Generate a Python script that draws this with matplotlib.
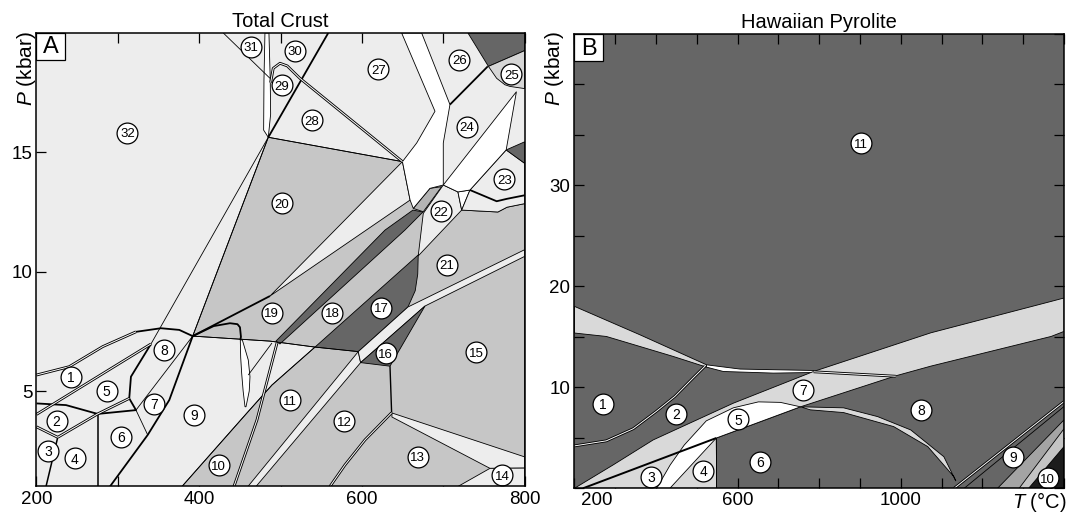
import matplotlib
matplotlib.use("Agg")
import matplotlib.pyplot as plt
from matplotlib.patches import Polygon, Rectangle
from matplotlib.transforms import ScaledTranslation

plt.rcParams["font.family"] = ["Liberation Sans", "DejaVu Sans"]
plt.rcParams["mathtext.fontset"] = "custom"
plt.rcParams["mathtext.rm"] = "Liberation Sans"
plt.rcParams["mathtext.it"] = "Liberation Sans:italic"

LIGHT = "#ededed"
MID = "#c6c6c6"
DARK = "#666666"
WHITE = "#ffffff"
BAND = "#d9d9d9"
BLOCK = "#b4b4b4"
PALE = "#d6d6d6"
GREY9 = "#a4a4a4"
PALE9 = "#c4c4c4"
BLACK10 = "#1c1c1c"

# ---------------- Panel A: Total Crust (T in degC, P in kbar) ----------------
a_grey = [(378.8, 1.0), (458.7, 4.08), (489.4, 5.25), (542.3, 6.84), (487, 7.09),
          (392, 7.30), (484.9, 15.63), (649.8, 14.61), (700, 13.63), (718, 13.34),
          (722.6, 12.58), (767.2, 12.5), (778.3, 12.7), (800, 12.85), (800, 1.0)]
a_wedge = [(487, 8.98), (649.8, 14.61), (659.2, 13.0)]
a_strip18 = [(494.3, 7.09), (628.3, 11.74), (662.7, 12.58), (675, 12.5),
             (652.8, 11.74), (499.2, 6.97)]
a_block22 = [(663.1, 12.65), (683.6, 13.49), (698, 13.56), (675.4, 12.51)]
a_white27 = [(648.8, 20.0), (673.4, 20.0), (708.2, 17.0), (700, 15.39), (700, 13.63),
             (683.6, 13.49), (663.1, 12.65), (659.2, 13.0), (649.8, 14.61),
             (667.3, 15.39), (689.8, 16.72)]
a_field22 = [(700, 13.63), (718, 13.34), (722.6, 12.58), (669.2, 10.66), (675.4, 12.44)]
a_notch22 = [(718, 13.34), (732.8, 13.42), (722.6, 12.58)]
a_field23 = [(732.8, 13.42), (777.3, 15.1), (800, 14.54), (800, 12.85),
             (778.3, 12.7), (767.2, 12.5), (722.6, 12.58)]
a_white24 = [(700, 13.63), (789.9, 17.54), (777.3, 15.1), (732.8, 13.42), (718, 13.34)]
a_dark23 = [(777.3, 15.1), (800, 15.44), (800, 14.54)]
a_field17 = [(542.3, 6.84), (595.5, 6.65), (656.6, 8.52), (665.5, 9.2),
             (668.6, 9.9), (669.2, 10.70)]
a_strip12 = [(459.9, 1.0), (595.5, 6.65), (598.4, 6.19), (469.8, 1.0)]
a_strip16 = [(595.5, 6.65), (656.6, 8.52), (800, 10.92), (800, 10.64),
             (677.5, 8.56), (598.4, 6.19)]
a_field16 = [(598.4, 6.19), (677.5, 8.56), (634.5, 6.04)]
a_strip13 = [(636.9, 4.08), (800, 2.24), (800, 1.77), (757.4, 1.76), (636.9, 3.91)]
a_field14 = [(718, 1.0), (757.4, 1.76), (800, 1.77), (800, 1.0)]
a_white29 = [(480.8, 20), (485.7, 20), (487.3, 18.05), (487.8, 16.6), (484.9, 15.63),
             (479.2, 15.93), (479.6, 18.03)]
a_lens = [(450.5, 7.14), (451, 6.4), (452.2, 5.74), (454, 5.0), (456.3, 4.34),
          (457.5, 4.34), (461.5, 5.0), (462.4, 5.6), (460.3, 6.3), (453, 7.14)]
a_dark26 = [(730.3, 20), (800, 20), (800, 19.26), (755.5, 18.6)]
a_field25 = [(755.5, 18.6), (800, 19.26), (800, 17.67), (782, 17.76),
             (775.8, 17.83), (765.6, 18.1)]

# boundary curves
a_top1_double = [(200, 5.67), (240.3, 6.02), (281.4, 6.86), (322.3, 7.48)]
a_top1_thick = [(322.3, 7.48), (353, 7.63), (375.5, 7.56), (392, 7.30)]
a_line_1_5 = [(200, 4.02), (340.7, 6.97)]
a_line_2top = [(200, 4.48), (236.3, 4.41), (275.2, 4.04)]
a_line_2_4 = [(226.1, 3.06), (275.2, 4.04), (314, 4.69)]
a_line_6top = [(275.2, 4.04), (322.3, 4.2), (314, 4.69)]
a_line_5_8 = [(314, 4.69), (316.1, 5.6), (340.7, 6.97)]
a_line_a = [(340.7, 6.97), (484.9, 15.63)]
a_line_9left = [(392, 7.3), (363.2, 4.62), (336.7, 3.16), (290.3, 1.0)]
a_line_6_7 = [(322.3, 4.2), (336.7, 3.16)]
a_line_7_8 = [(322.3, 4.2), (392, 7.3)]
a_line_4_6 = [(276, 4.04), (276, 1.0)]
a_line_2_3 = [(200, 3.5), (226.1, 3.06)]
a_line_3_4 = [(226.1, 3.06), (211.7, 1.0)]
a_line_11 = [(378.8, 1.0), (458.7, 4.08), (489.4, 5.25), (542.3, 6.84)]
a_line_flat = [(392, 7.3), (487, 7.09), (542.3, 6.84), (595.5, 6.65)]
a_line_b = [(392, 7.3), (484.9, 15.63)]
a_line_19_20 = [(392, 7.3), (487, 8.98)]
a_hook = [(392, 7.30), (417.8, 7.72), (437.8, 7.84), (447, 7.8), (450.1, 7.67),
          (451.3, 7.27), (450.5, 7.14)]
a_line_10_11 = [(442.7, 1.0), (471, 3.79), (495.6, 7.01)]
a_line_sliver = [(460.3, 5.67), (489.4, 7.01)]
a_line_12_13 = [(636.5, 4.09), (603.7, 2.95), (579.1, 1.9), (560.7, 1.0)]
a_line_12_15 = [(634.5, 6.04), (636.5, 4.09)]
a_line_20top = [(484.9, 15.63), (649.8, 14.61)]
a_line_28_30 = [(484.9, 15.63), (558.6, 20)]
a_line_27_28 = [(487.8, 17.92), (491, 18.52), (499.3, 18.73), (508.2, 18.62),
                (523.8, 18.1), (649.8, 14.61)]
a_line_31 = [(429.6, 20), (487, 18.1)]
a_line_24_26 = [(754.7, 18.6), (708.2, 17.0)]
a_line_23base = [(732.8, 13.42), (765.6, 12.95), (778, 13.05), (800, 13.2)]

a_label_T = [242.4, 224.8, 214.5, 247.3, 286.3, 303.9, 344.8, 357.1, 394, 423.9,
             511.6, 577.9, 668.5, 772.5, 740.2, 629.2, 623.8, 563.6, 489, 501.3,
             704.1, 697.1, 775, 728.7, 783.6, 719.6, 620.1, 538.2, 501.3, 517.7,
             463.2, 311.7]
a_label_P = [5.6, 3.76, 2.49, 2.18, 5.01, 3.09, 4.46, 6.72, 4.0, 1.9,
             4.62, 3.74, 2.25, 1.48, 6.62, 6.58, 8.49, 8.28, 8.28, 12.86,
             10.28, 12.54, 13.87, 16.07, 18.28, 18.88, 18.48, 16.35, 17.82, 19.26,
             19.42, 15.82]

# ---------------- Panel B: Hawaiian Pyrolite ----------------
b_band_upper = [(200, 18.02), (360.2, 15.21), (523.8, 12.23), (523.8, 12.0),
                (442, 13.06), (360.2, 14.05), (278.1, 15.04), (200, 15.38)]
b_sliver = [(523.8, 12.23), (605.9, 11.81), (786, 11.67), (786, 11.47),
            (687.7, 11.41), (564.9, 11.57), (523.8, 12.0)]
b_band_lower = [(200, 0), (294.6, 2.31), (392.9, 4.79), (589.4, 8.43), (786, 11.57),
                (1073.5, 15.4), (1368.3, 18.51), (1400, 18.85), (1400, 15.54),
                (1368.3, 15.04), (1073.5, 12.1), (987.5, 11.14), (754, 8.07),
                (547.7, 4.98), (548.4, 0)]
b_field5 = [(401.5, 0), (434.6, 2.31), (469, 4.28), (523.1, 6.68), (589.4, 7.97),
            (650.9, 8.56), (704.9, 8.51), (754, 8.07), (547.7, 4.98), (433.9, 0)]
b_crescent = [(754, 8.07), (859.7, 7.97), (943.2, 7.1), (1024.3, 5.78), (1105.4, 3.13),
              (1134.9, 0.72), (1130, 1.15), (1066, 4.13), (982.5, 6.11),
              (859.7, 7.5), (778.3, 7.77)]
b_field9 = [(1237.1, 0), (1400, 6.78), (1400, 0)]
b_field9b = [(1290, 0), (1400, 5.9), (1400, 0)]
b_field10 = [(1313.3, 0), (1400, 4.13), (1400, 0)]

b_line_1_2 = [(200, 4.2), (278, 4.7), (344, 5.9), (400, 7.6), (446, 9.1),
              (490, 10.9), (520, 12.1)]
b_line_3top = [(220.9, 0), (547.7, 4.98)]
b_line_4_6 = [(548.4, 0), (547.7, 4.98)]
b_line_band = [(786, 11.54), (987.5, 11.1)]
b_line_8_9a = [(1130.7, 0), (1400, 8.59)]
b_line_8_9b = [(1155.3, 0), (1400, 8.1)]

b_label_T = [270, 450, 388.7, 515.7, 601.7, 655, 761.4, 1048.9, 1274.2, 1360.2, 903]
b_label_P = [8.36, 7.37, 1.15, 1.75, 6.85, 2.64, 9.75, 7.77, 3.13, 0.99, 34.2]


def fill(ax, pts, fc, lw=0.6, z=2):
    ax.add_patch(Polygon(pts, closed=True, fc=fc, ec="k", lw=lw, zorder=z))


def curve(ax, pts, lw=0.6, z=5):
    xs, ys = zip(*pts)
    ax.plot(xs, ys, color="k", lw=lw, zorder=z, solid_capstyle="butt")


def double(ax, pts, z=5):
    xs, ys = zip(*pts)
    ax.plot(xs, ys, color="k", lw=2.0, zorder=z, solid_capstyle="butt")
    ax.plot(xs, ys, color="white", lw=0.7, zorder=z + 0.1, solid_capstyle="butt")


def labels(ax, ts, ps):
    for i, (t, p) in enumerate(zip(ts, ps), start=1):
        ax.plot(t, p, "o", ms=15, mfc="white", mec="k", mew=0.9, zorder=10)
        ax.text(t, p, str(i), ha="center", va="center_baseline",
                fontsize=10 if i < 10 else 9.5, zorder=11)


def letter_box(ax, s):
    ax.add_patch(Rectangle((0, 1), 0.058, -0.06, transform=ax.transAxes,
                           fc="white", ec="k", lw=0.9, zorder=12, clip_on=False))
    ax.text(0.029, 0.968, s, transform=ax.transAxes, ha="center", va="center",
            fontsize=17, zorder=13)


fig = plt.figure(figsize=(10.67, 5.16), dpi=100)
axa = fig.add_axes([0.0342, 0.0572, 0.4575, 0.8789])
axb = fig.add_axes([0.5384, 0.0537, 0.4588, 0.8804])

# ----- draw panel A -----
axa.set_facecolor(LIGHT)
fill(axa, a_grey, MID)
fill(axa, a_wedge, LIGHT)
fill(axa, a_strip18, DARK)
fill(axa, a_block22, BLOCK)
fill(axa, a_white27, WHITE)
fill(axa, a_field22, LIGHT)
fill(axa, a_notch22, WHITE)
fill(axa, a_field23, LIGHT)
fill(axa, a_white24, WHITE)
fill(axa, a_dark23, DARK)
fill(axa, a_field17, DARK)
fill(axa, a_strip12, LIGHT)
fill(axa, a_strip16, LIGHT)
fill(axa, a_field16, DARK)
fill(axa, a_strip13, LIGHT)
fill(axa, a_field14, LIGHT)
fill(axa, a_white29, WHITE)
fill(axa, a_lens, WHITE)
fill(axa, a_dark26, DARK)
fill(axa, a_field25, PALE)

double(axa, a_top1_double)
curve(axa, a_top1_thick, lw=1.3)
double(axa, a_line_1_5)
curve(axa, a_line_2top, lw=1.3)
double(axa, a_line_2_4)
curve(axa, a_line_6top, lw=1.3)
curve(axa, a_line_5_8, lw=1.3)
curve(axa, a_line_a)
curve(axa, a_line_9left, lw=1.3)
curve(axa, a_line_6_7)
curve(axa, a_line_7_8)
curve(axa, a_line_4_6, lw=1.1)
double(axa, a_line_2_3)
curve(axa, a_line_3_4, lw=1.1)
curve(axa, a_line_11)
curve(axa, a_line_flat)
curve(axa, a_line_b)
curve(axa, a_line_19_20, lw=1.3)
curve(axa, a_hook, lw=1.3)
double(axa, a_line_10_11)
curve(axa, a_line_sliver)
double(axa, a_line_12_13)
curve(axa, a_line_12_15, lw=1.0)
curve(axa, a_line_20top)
curve(axa, a_line_28_30, lw=1.3)
double(axa, a_line_27_28)
curve(axa, a_line_31)
curve(axa, a_line_24_26, lw=1.3)
curve(axa, a_line_23base, lw=1.3)

labels(axa, a_label_T, a_label_P)

axa.set_xlim(200, 800)
axa.set_ylim(1, 20)
axa.set_xticks(range(200, 801, 100))
axa.set_xticklabels(["200", "", "400", "", "600", "", "800"])
axa.set_yticks([5, 10, 15])
axa.tick_params(direction="in", top=True, bottom=True, left=True, right=False,
                length=7, width=0.9, labelsize=13.5, pad=3)
axa.set_title("Total Crust", fontsize=14.5, pad=4)
letter_box(axa, "A")

# ----- draw panel B -----
axb.set_facecolor(DARK)
fill(axb, b_band_upper, BAND)
fill(axb, b_sliver, WHITE)
fill(axb, b_band_lower, BAND)
fill(axb, b_field5, WHITE)
fill(axb, b_crescent, BAND)
fill(axb, b_field9, GREY9)
fill(axb, b_field9b, PALE9)
fill(axb, b_field10, BLACK10)

double(axb, b_line_1_2)
curve(axb, b_line_3top, lw=1.4)
curve(axb, b_line_4_6)
double(axb, b_line_band)
double(axb, b_line_8_9a)
curve(axb, b_line_8_9b)

labels(axb, b_label_T, b_label_P)

axb.set_xlim(200, 1400)
axb.set_ylim(0, 45)
btick = list(range(200, 1401, 100))
axb.set_xticks(btick)
axb.set_xticklabels([str(t) if t in (200, 600, 1000) else "" for t in btick])
axb.set_yticks(range(0, 46, 5))
axb.set_yticklabels([str(p) if p in (10, 20, 30) else "" for p in range(0, 46, 5)])
axb.tick_params(direction="in", top=True, bottom=True, left=True, right=True,
                length=7, width=0.9, labelsize=13.5, pad=3)
axb.set_title("Hawaiian Pyrolite", fontsize=14.5, pad=4)
letter_box(axb, "B")
first = axb.get_xticklabels()[0]
first.set_ha("left")
first.set_transform(first.get_transform() + ScaledTranslation(0.07, 0, fig.dpi_scale_trans))

for ax in (axa, axb):
    for sp in ax.spines.values():
        sp.set_linewidth(1.1)
        sp.set_zorder(20)

fig.text(0.0244, 0.94, "$P$ (kbar)", rotation=90, ha="center", va="top", fontsize=15)
fig.text(0.520, 0.94, "$P$ (kbar)", rotation=90, ha="center", va="top", fontsize=15)
fig.text(0.9995, 0.0504, "$T$ (°C)", ha="right", va="top", fontsize=14.5)

fig.savefig("out.png", dpi=100)
